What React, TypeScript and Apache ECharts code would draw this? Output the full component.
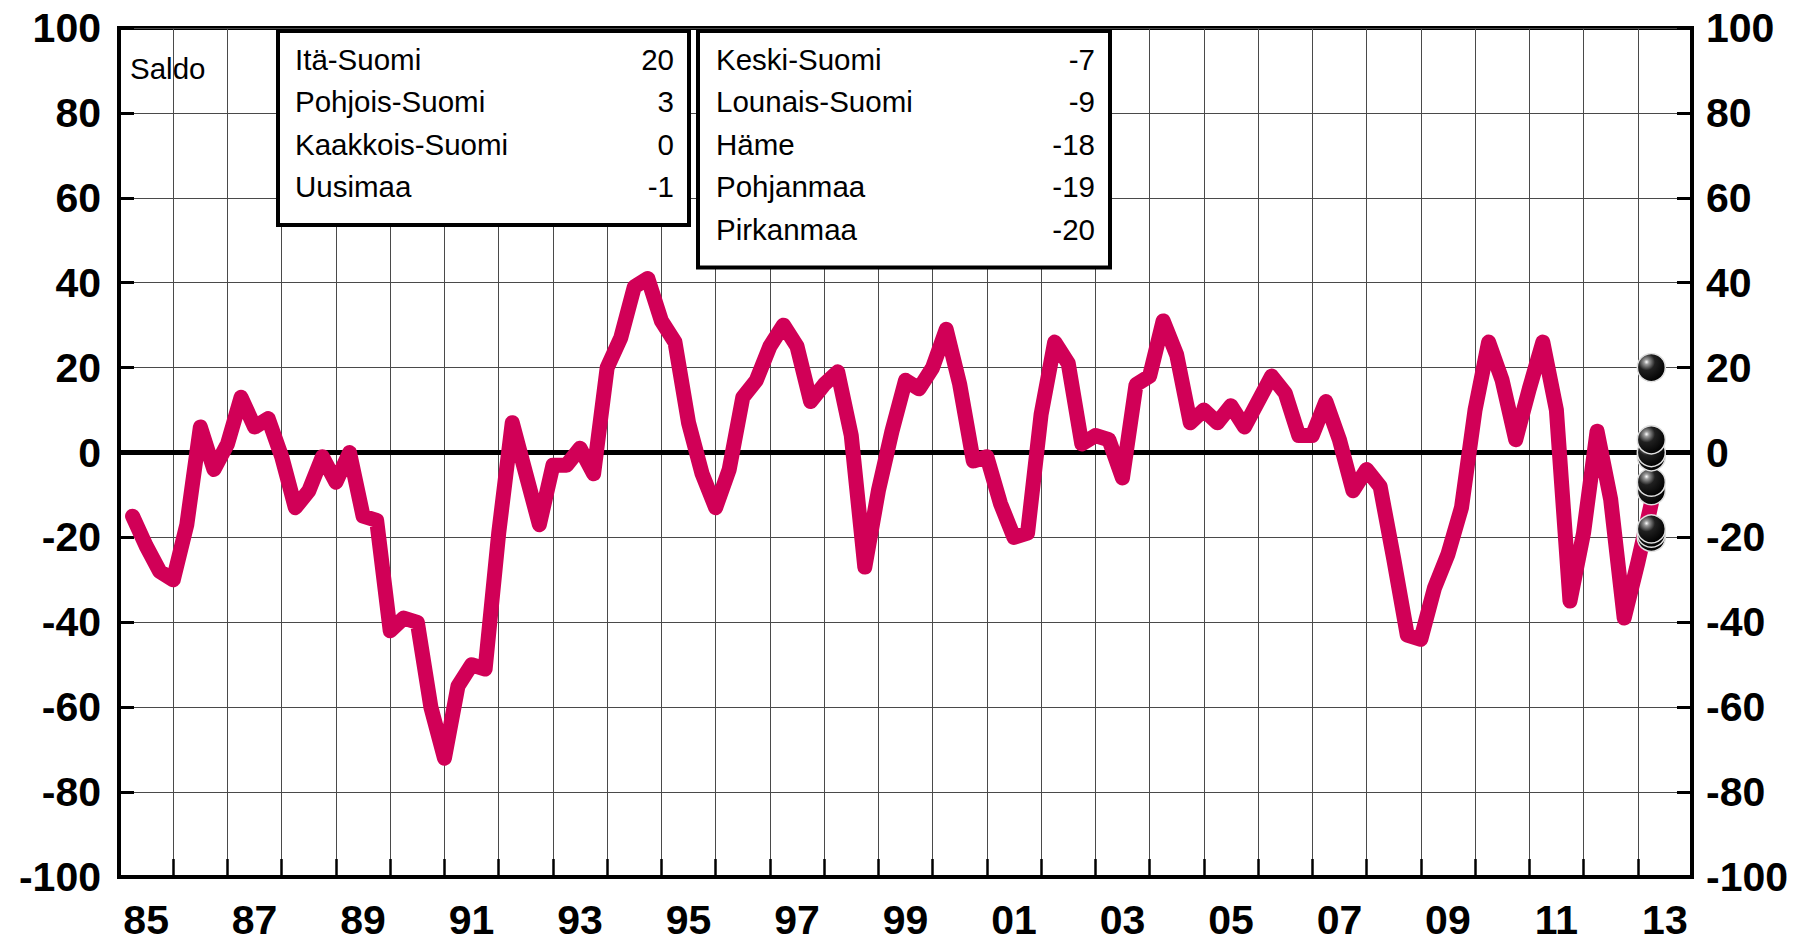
import React, { useEffect, useRef } from "react";
import * as echarts from "echarts";

// Year labels of the x axis (one band per year, 1985..2013)
const yearLabels = [
  "85", "86", "87", "88", "89", "90", "91", "92", "93", "94",
  "95", "96", "97", "98", "99", "00", "01", "02", "03", "04",
  "05", "06", "07", "08", "09", "10", "11", "12", "13",
];

// Quarterly balance (saldo), 1985 Q1 .. 2013 Q1
const saldo1985_1989 = [
  -15, -22, -28, -30, -17, 6, -4, 2, 13, 6, 8, -1, -13, -9, -1, -7, 0, -15, -16, -42,
];
const saldo1990_1994 = [
  -39, -40, -60, -72, -55, -50, -51, -19, 7, -5, -17, -3, -3, 1, -5, 20, 27, 39, 41, 31,
];
const saldo1995_1999 = [
  26, 7, -5, -13, -4, 13, 17, 25, 30, 25, 12, 16, 19, 4, -27, -9, 5, 17, 15, 20,
];
const saldo2000_2004 = [
  29, 16, -2, -1, -12, -20, -19, 9, 26, 21, 2, 4, 3, -6, 16, 18, 31, 23, 7, 10,
];
const saldo2005_2009 = [
  7, 11, 6, 12, 18, 14, 4, 4, 12, 3, -9, -4, -8, -25, -43, -44, -32, -24, -13, 10,
];
const saldo2010_2013 = [26, 17, 3, 15, 26, 10, -35, -19, 5, -11, -39, -26, -12];

// Regional forecasts (shown as dots) for 2013 Q1
const regionsLeft = ["Itä-Suomi", "Pohjois-Suomi", "Kaakkois-Suomi", "Uusimaa"];
const valuesLeft = [20, 3, 0, -1];
const regionsRight = ["Keski-Suomi", "Lounais-Suomi", "Häme", "Pohjanmaa", "Pirkanmaa"];
const valuesRight = [-7, -9, -18, -19, -20];

const yTicks = { min: -100, max: 100, interval: 20 };
const firstYear = 1985;
const lastYearEnd = 2014;
const forecastX = 2013.25;

const FONT = "'Liberation Sans', Arial, Helvetica, sans-serif";
const LINE_COLOR = "#D10057";

export default function App() {
  const ref = useRef<HTMLDivElement>(null);

  useEffect(() => {
    if (!ref.current) return;
    const chart = echarts.init(ref.current, undefined, { renderer: "svg" });

    const allSaldo = [
      ...saldo1985_1989,
      ...saldo1990_1994,
      ...saldo1995_1999,
      ...saldo2000_2004,
      ...saldo2005_2009,
      ...saldo2010_2013,
    ];
    const lineData = allSaldo.map((v, i) => [firstYear + (i + 1) / 4, v]);
    const dotValues = [...valuesLeft, ...valuesRight].slice().sort((a, b) => a - b);
    const dotData = dotValues.map((v) => [forecastX, v]);

    const gridLeft = 119;
    const gridRight = 115;
    const gridTop = 28;
    const gridBottom = 65;

    const rowY0 = 59;
    const rowStep = 42.5;
    const legendFont = `29.5px ${FONT}`;

    const makeBox = (
      names: string[],
      vals: number[],
      x: number,
      w: number,
      nameX: number,
      valX: number
    ) => {
      const h = 194 + (names.length - 4) * rowStep;
      const els: any[] = [
        {
          type: "rect",
          z: 100,
          zlevel: 0,
          shape: { x, y: 31, width: w, height: h },
          style: { fill: "#fff", stroke: "#000", lineWidth: 4 },
        },
      ];
      names.forEach((n, i) => {
        els.push({
          type: "text",
          z: 101,
          style: {
            x: nameX,
            y: rowY0 + i * rowStep,
            text: n,
            font: legendFont,
            fill: "#000",
            textAlign: "left",
            textVerticalAlign: "middle",
          },
        });
        els.push({
          type: "text",
          z: 101,
          style: {
            x: valX,
            y: rowY0 + i * rowStep,
            text: String(vals[i]),
            font: legendFont,
            fill: "#000",
            textAlign: "right",
            textVerticalAlign: "middle",
          },
        });
      });
      return els;
    };

    const axisLabelStyle = {
      color: "#000",
      fontFamily: FONT,
      fontWeight: "bold" as const,
      fontSize: 41,
    };

    chart.setOption({
      animation: false,
      backgroundColor: "#fff",
      grid: {
        left: gridLeft,
        right: gridRight,
        top: gridTop,
        bottom: gridBottom,
        show: true,
        borderColor: "#000",
        borderWidth: 4,
        backgroundColor: "transparent",
      },
      xAxis: [
        {
          type: "value",
          min: firstYear,
          max: lastYearEnd,
          interval: 1,
          position: "bottom",
          axisLine: { show: true, onZero: false, lineStyle: { color: "#000", width: 4 } },
          axisTick: { show: true, inside: true, length: 18, lineStyle: { color: "#000", width: 2.5 } },
          axisLabel: { show: false },
          splitLine: { show: true, lineStyle: { color: "#4a4a4a", width: 1 } },
        },
        {
          type: "category",
          data: yearLabels,
          position: "bottom",
          boundaryGap: true,
          axisLine: { show: false },
          axisTick: { show: false },
          splitLine: { show: false },
          axisLabel: { ...axisLabelStyle, interval: 1, margin: 22 },
        },
      ],
      yAxis: [
        {
          type: "value",
          min: yTicks.min,
          max: yTicks.max,
          interval: yTicks.interval,
          position: "left",
          axisLine: { show: true, onZero: false, lineStyle: { color: "#000", width: 4 } },
          axisTick: { show: true, inside: true, length: 15, lineStyle: { color: "#000", width: 3 } },
          axisLabel: { ...axisLabelStyle, margin: 18 },
          splitLine: { show: true, lineStyle: { color: "#4a4a4a", width: 1 } },
        },
        {
          type: "value",
          min: yTicks.min,
          max: yTicks.max,
          interval: yTicks.interval,
          position: "right",
          axisLine: { show: true, onZero: false, lineStyle: { color: "#000", width: 4 } },
          axisTick: { show: true, inside: true, length: 15, lineStyle: { color: "#000", width: 3 } },
          axisLabel: { ...axisLabelStyle, margin: 14 },
          splitLine: { show: false },
        },
      ],
      series: [
        {
          name: "Saldo",
          type: "line",
          xAxisIndex: 0,
          yAxisIndex: 0,
          data: lineData,
          showSymbol: false,
          symbol: "none",
          lineStyle: { color: LINE_COLOR, width: 15, cap: "round", join: "round" },
          z: 5,
          markLine: {
            silent: true,
            symbol: ["none", "none"],
            label: { show: false },
            lineStyle: { color: "#000", width: 5, type: "solid" },
            data: [{ yAxis: 0 }],
            z: 3,
          },
        },
        {
          name: "Alueet",
          type: "scatter",
          xAxisIndex: 0,
          yAxisIndex: 0,
          data: dotData,
          symbol: "circle",
          symbolSize: 28,
          z: 10,
          itemStyle: {
            color: new echarts.graphic.RadialGradient(0.33, 0.3, 0.75, [
              { offset: 0, color: "#ffffff" },
              { offset: 0.12, color: "#9a9a9a" },
              { offset: 0.4, color: "#202020" },
              { offset: 1, color: "#000000" },
            ]),
            borderColor: "#e0e0e0",
            borderWidth: 1.5,
            opacity: 1,
          },
        },
      ],
      graphic: [
        {
          type: "text",
          z: 101,
          style: {
            x: 130,
            y: 68,
            text: "Saldo",
            font: `29.5px ${FONT}`,
            fill: "#000",
            textAlign: "left",
            textVerticalAlign: "middle",
          },
        },
        ...makeBox(regionsLeft, valuesLeft, 278, 411, 295, 674),
        ...makeBox(regionsRight, valuesRight, 698, 412, 716, 1095),
      ],
    });

    return () => chart.dispose();
  }, []);

  return (
    <div
      ref={ref}
      style={{ position: "fixed", left: 0, top: 0, width: 1807, height: 942, background: "#fff" }}
    />
  );
}
